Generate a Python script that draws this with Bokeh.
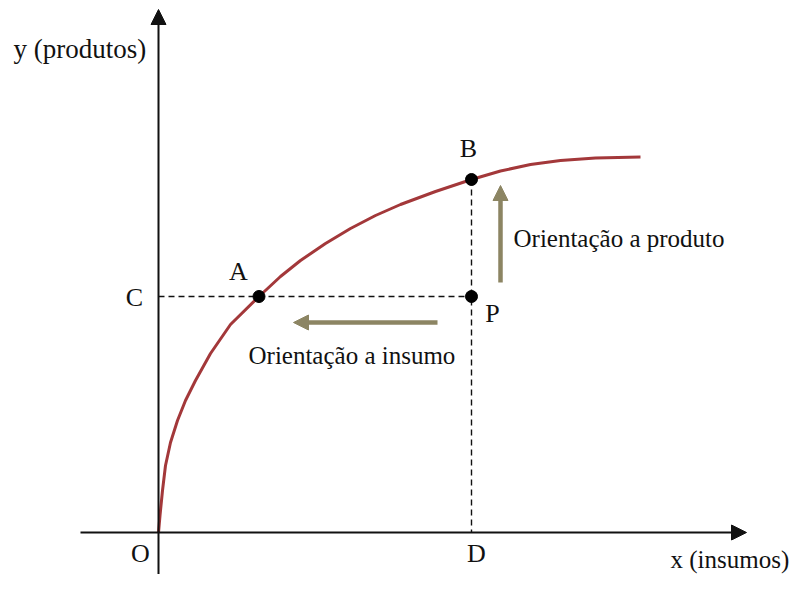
from bokeh.plotting import figure
from bokeh.models import Range1d, Arrow, NormalHead, ColumnDataSource
from bokeh.core.properties import value
from bokeh.embed import file_html
from bokeh.resources import INLINE

# Production frontier (insumos -> produtos)
insumo = [0, 1.5, 4, 7, 12, 19, 27, 37, 52, 72, 100.5, 122, 142, 167, 192,
          217, 242, 277, 313, 342, 372, 402, 437, 482]
produto = [0, 17, 42, 67, 90, 112, 132, 152, 179, 208, 236, 256, 272, 289, 304,
           317, 328, 341, 353, 361.5, 368, 372, 374.5, 375.5]

# Points of interest
point_names = ["A", "B", "P"]
point_x = [100.5, 313, 313]
point_y = [236, 353, 236]

FONT = value("Liberation Serif")
TXT = "#111111"

p = figure(width=792, height=574, output_backend="svg", toolbar_location=None,
           x_range=Range1d(-158, 634), y_range=Range1d(-42, 532),
           min_border=0)
p.axis.visible = False
p.grid.visible = False
p.outline_line_color = None
p.background_fill_color = "white"

# Axes with arrow heads
p.add_layout(Arrow(end=NormalHead(size=15, fill_color="#111111", line_color="#111111"),
                   x_start=0, y_start=-60, x_end=0, y_end=523,
                   line_color="#111111", line_width=2))
p.add_layout(Arrow(end=NormalHead(size=15, fill_color="#111111", line_color="#111111"),
                   x_start=-78, y_start=0, x_end=588, y_end=0,
                   line_color="#111111", line_width=2))

# Dashed projection lines
a_x, b_x, p_x = point_x
a_y, b_y, p_y = point_y
p.line([0, p_x], [p_y, p_y], line_color="#111111", line_width=1.4, line_dash="6 4")
p.line([p_x, p_x], [b_y, 0], line_color="#111111", line_width=1.4, line_dash="6 4")

# Frontier curve
p.line(insumo, produto, line_color="#a3383a", line_width=3)

# Points
p.scatter(point_x, point_y, size=12, color="#000000")

# Orientation arrows
olive = "#8c8563"
p.add_layout(Arrow(end=NormalHead(size=15, fill_color=olive, line_color=olive),
                   x_start=342, y_start=250, x_end=342, y_end=347,
                   line_color=olive, line_width=4.5))
p.add_layout(Arrow(end=NormalHead(size=15, fill_color=olive, line_color=olive),
                   x_start=279, y_start=210, x_end=135, y_end=210,
                   line_color=olive, line_width=4.5))

# Labels
letters = ColumnDataSource(dict(
    x=[80, 310, -24, 334, -18, 318],
    y=[261, 384, 235, 219, -21, -21],
    t=["A", "B", "C", "P", "O", "D"]))
p.text("x", "y", text="t", source=letters, text_font=FONT, text_font_size="26px",
       text_align="center", text_baseline="middle", text_color=TXT)

p.text([-145], [484], text=["y (produtos)"], text_font=FONT, text_font_size="27px",
       text_align="left", text_baseline="middle", text_color=TXT)
p.text([512], [-27], text=["x (insumos)"], text_font=FONT, text_font_size="25px",
       text_align="left", text_baseline="middle", text_color=TXT)
p.text([355], [294], text=["Orientação a produto"], text_font=FONT, text_font_size="25px",
       text_align="left", text_baseline="middle", text_color=TXT)
p.text([90], [177], text=["Orientação a insumo"], text_font=FONT, text_font_size="25px",
       text_align="left", text_baseline="middle", text_color=TXT)

open("out.html", "w").write(file_html(p, INLINE))
